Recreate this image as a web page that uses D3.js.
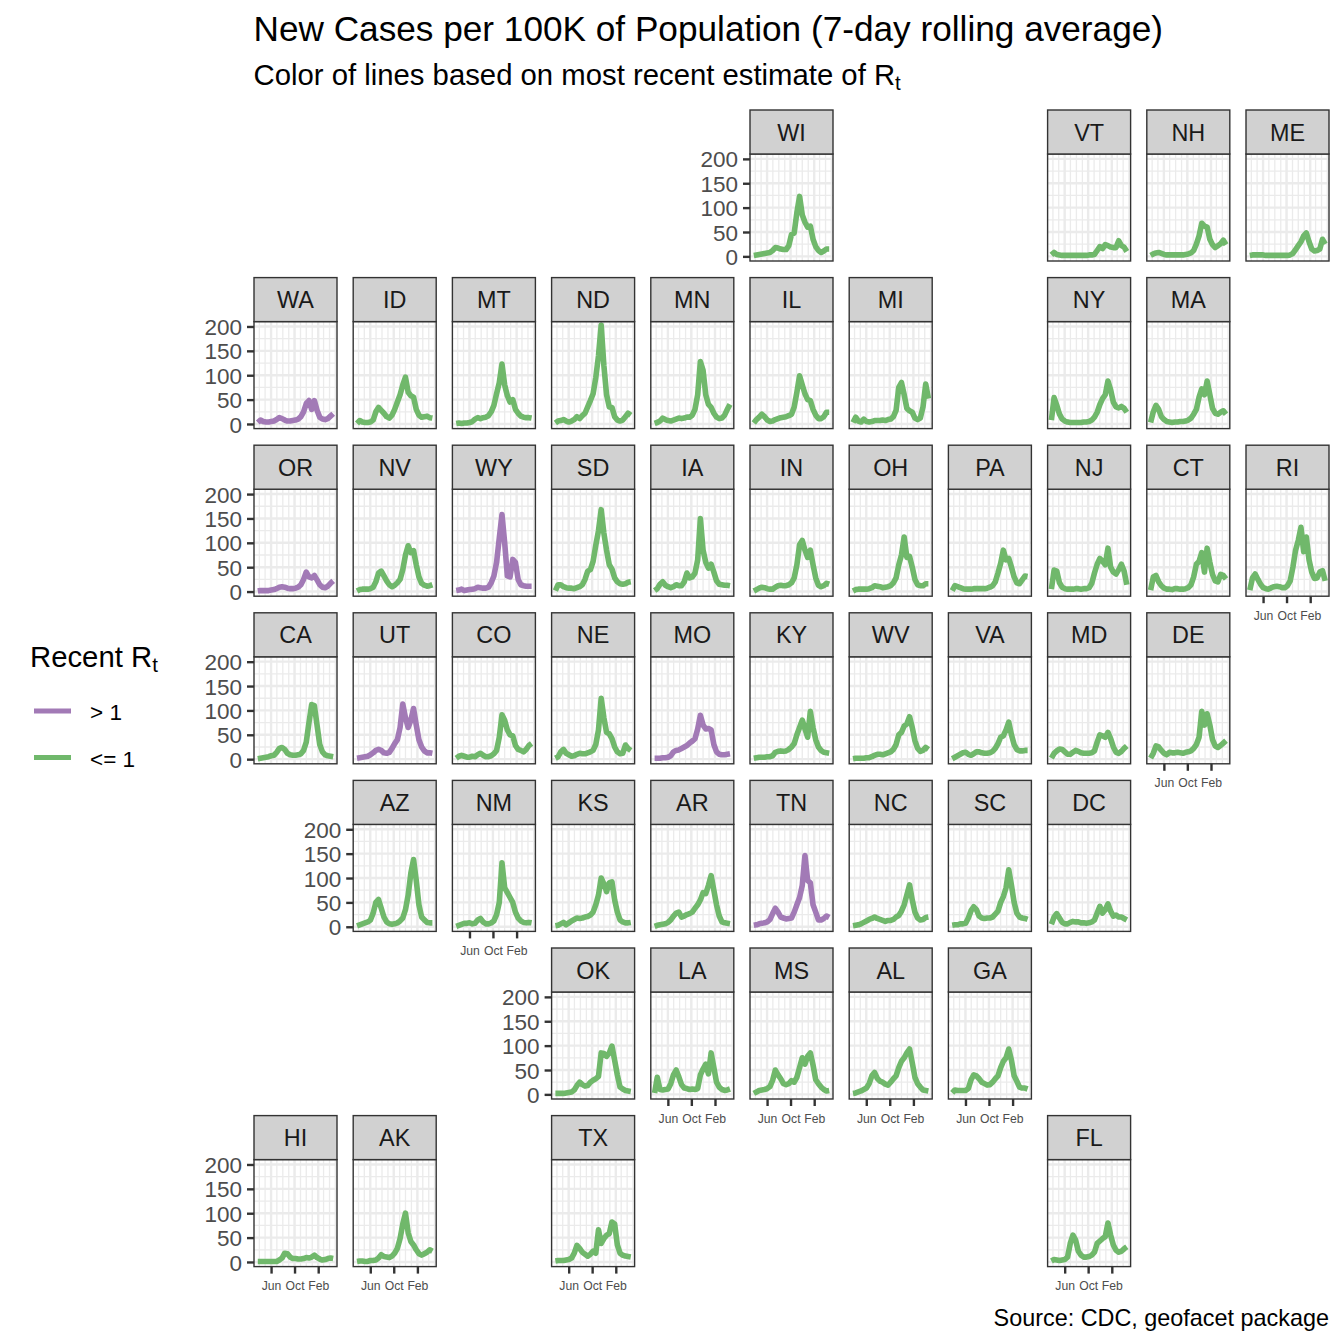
<!DOCTYPE html>
<html>
<head>
<meta charset="utf-8">
<title>New Cases per 100K</title>
<script src="https://cdn.jsdelivr.net/npm/d3@7"></script>
<style>
  html, body { margin: 0; padding: 0; background: #fff; }
  svg { display: block; }
  text { font-family: "Liberation Sans", Arial, sans-serif; }
</style>
</head>
<body>
<div id="chart"></div>
<script>
// Sample dates, every two weeks
const dates = ['2020-03-24','2020-04-07','2020-04-21','2020-05-05','2020-05-19','2020-06-02','2020-06-16','2020-06-30',
  '2020-07-14','2020-07-28','2020-08-11','2020-08-25','2020-09-08','2020-09-22','2020-10-06','2020-10-20','2020-11-03',
  '2020-11-17','2020-12-01','2020-12-15','2020-12-29','2021-01-12','2021-01-26','2021-02-09','2021-02-23','2021-03-09',
  '2021-03-23','2021-04-06','2021-04-20'].map(d3.utcParse('%Y-%m-%d'));

// New cases per 100K
const WI = [2,3,4,5,6,7,8,12,18,17,15,14,14,22,45,48,90,123,85,70,60,62,35,20,12,8,11,15,15];
const VT = [3,8,4,3,2,2,2,2,2,2,2,2,2,2,3,3,4,12,20,16,24,22,19,18,18,32,22,19,10];
const NH = [2,5,7,8,6,4,3,3,3,3,3,3,3,4,5,7,12,25,42,68,62,60,35,24,18,22,26,33,24];
const ME = [2,3,3,3,3,3,2,2,2,2,2,2,2,2,2,3,6,14,22,30,42,48,30,15,11,12,15,35,25];
const WA = [3,8,5,4,4,5,6,9,13,11,8,6,6,7,8,10,15,25,42,48,30,48,28,14,10,9,11,16,21];
const ID = [1,7,4,3,3,4,8,25,34,28,22,15,12,18,30,45,60,80,96,65,58,55,30,18,14,15,16,13,12];
const MT = [1,2,1,2,2,3,5,10,13,11,13,14,17,25,38,62,85,123,80,58,45,50,30,22,16,14,13,13,12];
const ND = [2,6,7,9,6,4,6,9,15,11,17,22,35,48,62,95,140,203,120,60,35,34,15,8,6,8,15,22,18];
const MN = [1,3,6,12,9,7,6,8,10,12,11,12,14,14,18,30,60,128,110,60,40,34,22,14,11,12,18,30,40];
const IL = [2,9,14,20,15,8,5,6,9,11,13,14,15,17,20,35,65,99,80,62,50,48,30,18,11,11,15,24,24];
const MI = [3,14,6,4,10,5,4,5,7,7,7,8,7,9,10,15,28,75,85,60,32,27,24,12,9,12,35,82,52];
const NY = [8,54,38,20,10,6,4,3,3,3,3,3,4,4,5,8,14,24,40,52,60,88,70,45,35,33,36,32,24];
const MA = [3,25,38,30,15,9,5,4,3,4,4,5,5,6,8,12,20,30,55,72,60,88,60,32,22,20,24,27,20];
const OR = [1,2,2,2,2,3,4,6,9,10,9,7,6,6,7,9,14,25,40,30,28,33,24,14,9,8,11,17,22];
const NV = [1,4,5,5,5,6,9,20,38,42,32,22,14,10,13,18,25,45,75,94,80,84,55,30,17,13,11,12,14];
const WY = [2,3,5,2,3,4,5,6,9,8,7,7,9,18,32,60,110,158,100,32,30,66,60,25,14,12,11,11,11];
const SD = [2,14,14,10,8,7,7,6,8,10,14,25,42,45,62,95,125,168,120,85,55,46,28,20,16,15,16,19,20];
const IA = [2,6,15,20,13,10,8,10,14,12,12,20,38,28,30,38,65,150,85,60,48,56,40,22,15,14,13,13,12];
const IN = [1,4,7,9,8,6,5,5,9,12,13,12,12,14,18,28,55,96,105,85,70,85,55,28,13,10,12,17,15];
const OH = [1,4,5,5,5,5,6,8,12,11,10,8,9,10,12,18,28,55,75,112,70,72,50,25,14,12,12,16,16];
const PA = [2,12,10,8,6,5,5,5,6,6,6,6,6,7,9,12,20,38,58,85,65,68,50,30,18,16,24,32,31];
const NJ = [5,44,42,18,9,6,5,5,5,6,6,5,6,6,8,17,38,56,68,62,55,89,50,40,36,45,56,42,14];
const CT = [3,30,33,20,12,7,5,5,4,6,6,5,5,6,8,14,30,56,62,80,40,89,60,35,22,20,35,33,26];
const RI = [3,28,36,25,15,8,6,5,8,10,11,10,8,8,12,22,50,85,105,132,82,112,65,40,27,28,40,43,22];
const CA = [1,2,3,4,5,7,8,14,22,24,20,12,9,8,8,9,11,18,35,75,112,110,70,30,15,9,7,6,5];
const UT = [2,3,4,5,6,9,13,18,20,18,13,12,14,22,32,40,65,113,85,65,80,104,70,40,25,17,13,13,12];
const CO = [2,6,8,6,4,4,6,5,9,12,8,5,5,7,11,18,45,91,80,60,50,48,28,20,18,15,20,28,32];
const NE = [2,5,15,20,12,9,6,7,10,12,11,11,13,15,18,30,60,125,85,55,52,42,25,15,11,12,29,22,18];
const MO = [2,2,2,3,3,4,7,15,18,19,22,25,28,33,37,42,62,90,70,62,63,60,30,15,10,9,9,10,11];
const KY = [2,3,4,4,4,5,5,7,14,16,17,16,17,20,25,32,50,65,80,62,45,98,65,40,25,18,14,13,12];
const WV = [1,2,2,2,2,3,3,5,8,10,10,9,11,13,15,20,30,50,55,68,72,87,65,38,22,16,18,24,20];
const VA = [1,4,7,10,13,14,10,8,11,15,15,13,12,12,13,16,22,32,45,48,60,76,50,30,20,17,17,18,18];
const MD = [2,12,17,21,20,15,10,10,14,18,16,13,12,12,12,13,17,35,50,48,45,55,42,25,14,12,16,22,27];
const DE = [2,12,27,25,18,12,9,14,13,13,14,13,12,14,15,17,22,30,45,98,70,93,70,40,27,24,28,33,38];
const AZ = [2,4,6,8,10,14,28,50,56,38,20,10,6,5,6,8,12,18,35,65,110,138,95,45,20,14,9,8,8];
const NM = [1,3,5,7,7,8,6,7,14,17,10,6,6,8,12,25,50,131,80,70,60,50,30,18,12,9,8,9,8];
const KS = [2,3,6,9,4,8,12,15,18,17,18,20,21,24,30,45,65,100,88,72,90,92,55,30,14,10,8,8,9];
const AR = [1,3,4,5,6,9,14,22,28,30,20,22,25,27,30,38,45,55,70,68,85,105,75,45,22,10,8,7,6];
const TN = [3,4,6,7,8,10,15,27,38,30,20,18,16,17,18,30,45,60,85,146,95,90,45,30,14,14,17,22,19];
const NC = [2,3,4,6,9,12,15,17,20,17,15,13,11,13,13,15,20,23,32,45,65,86,55,30,18,14,15,19,20];
const SC = [3,4,4,6,6,7,18,33,41,35,22,18,17,18,18,20,26,32,50,62,80,117,85,50,28,20,18,17,15];
const DC = [5,20,27,18,9,6,6,9,11,10,10,8,8,7,8,10,14,28,42,28,35,47,32,22,24,20,20,17,14];
const OK = [2,2,2,2,3,4,5,9,18,25,20,17,18,25,29,32,37,85,84,78,85,99,70,40,15,11,8,7,6];
const LA = [3,35,10,9,10,11,22,40,50,36,20,13,12,10,11,10,12,40,52,62,42,85,55,25,15,10,8,9,11];
const MS = [2,5,8,9,10,12,16,29,50,40,32,22,20,22,28,25,35,55,75,62,78,85,60,30,22,15,10,7,8];
const AL = [2,3,5,7,10,13,22,38,45,33,27,25,21,19,25,32,38,55,68,75,85,93,65,35,22,15,9,8,7];
const GA = [3,9,8,8,8,8,12,30,40,38,32,25,22,19,20,25,32,38,55,68,75,93,70,38,27,15,13,13,11];
const HI = [1,1,1,1,1,1,1,1,4,8,18,17,10,7,7,6,6,7,9,8,10,14,9,6,4,5,7,8,7];
const AK = [1,2,2,1,1,3,3,4,8,15,11,10,9,12,18,28,48,78,100,60,42,35,25,17,14,17,20,25,22];
const TX = [2,3,3,3,4,5,8,18,34,28,20,16,12,16,22,18,66,38,48,55,58,82,78,35,18,14,12,11,10];
const FL = [2,5,4,3,4,5,10,38,55,45,22,14,10,10,11,14,20,38,43,48,52,80,55,35,24,20,22,27,31];

const cases = {WI,VT,NH,ME,WA,ID,MT,ND,MN,IL,MI,NY,MA,OR,NV,WY,SD,IA,IN,OH,PA,NJ,CT,RI,CA,UT,CO,NE,MO,KY,WV,VA,MD,DE,
  AZ,NM,KS,AR,TN,NC,SC,DC,OK,LA,MS,AL,GA,HI,AK,TX,FL};

// Most recent Rt estimate above 1
const rtAboveOne = ['WA','OR','WY','UT','MO','TN'];

// Geofacet grid, one string per row, '.' is an empty cell
const geoGrid = [
  '. . . . . WI . . VT NH ME',
  'WA ID MT ND MN IL MI . NY MA .',
  'OR NV WY SD IA IN OH PA NJ CT RI',
  'CA UT CO NE MO KY WV VA MD DE .',
  '. AZ NM KS AR TN NC SC DC . .',
  '. . . OK LA MS AL GA . . .',
  'HI AK . TX . . . . FL . .'
].map(r => r.split(' '));

const yTicks = [0, 50, 100, 150, 200];
const yMinor = [25, 75, 125, 175];
const xTicks = ['2020-06-01','2020-10-01','2021-02-01'].map(d3.utcParse('%Y-%m-%d'));
const legendItems = [['> 1', '#a27ab6'], ['<= 1', '#70b86b']];

// Layout
const W = 1344, H = 1344;
const gridLeft = 254, gridTop = 110, stepX = 99.2, stepY = 167.6;
const panelW = 83, stripH = 44, panelH = 107;

const svg = d3.select('#chart').append('svg').attr('width', W).attr('height', H);

const x = d3.scaleTime().domain([dates[0], dates[dates.length - 1]]).range([3.8, 79.2]);
const y = d3.scaleLinear().domain([-9.5, 210]).range([panelH, 0]);
const months = d3.utcMonth.range(d3.utcMonth.ceil(x.invert(0)), x.invert(panelW));
const line = d3.line().x((d, i) => x(dates[i])).y(d => y(d));

function hasPanelBelow(row, col) {
  return geoGrid.slice(row + 1).some(r => r[col] !== '.');
}

geoGrid.forEach((cells, row) => {
  const firstCol = cells.findIndex(c => c !== '.');
  cells.forEach((state, col) => {
    if (state === '.') return;
    const g = svg.append('g')
      .attr('transform', `translate(${gridLeft + col * stepX},${gridTop + row * stepY})`);
    const p = g.append('g').attr('transform', `translate(0,${stripH})`);

    // Strip
    g.append('rect').attr('width', panelW).attr('height', stripH)
      .attr('fill', '#d1d1d1').attr('stroke', '#333333').attr('stroke-width', 1.4);
    g.append('text').attr('x', panelW / 2).attr('y', 30.5).attr('text-anchor', 'middle')
      .attr('font-size', 23.4).attr('fill', '#1a1a1a').text(state);

    // Grid
    p.append('rect').attr('width', panelW).attr('height', panelH).attr('fill', '#fff');
    p.selectAll('.minor-y').data(yMinor).join('line').attr('class', 'minor-y')
      .attr('x2', panelW).attr('y1', y).attr('y2', y)
      .attr('stroke', '#ebebeb').attr('stroke-width', 1.3);
    p.selectAll('.minor-x').data(months).join('line').attr('class', 'minor-x')
      .attr('x1', x).attr('x2', x).attr('y2', panelH)
      .attr('stroke', '#ebebeb').attr('stroke-width', 1.3);
    p.selectAll('.major-y').data(yTicks).join('line').attr('class', 'major-y')
      .attr('x2', panelW).attr('y1', y).attr('y2', y)
      .attr('stroke', '#ebebeb').attr('stroke-width', 2.4);
    p.selectAll('.major-x').data(xTicks).join('line').attr('class', 'major-x')
      .attr('x1', x).attr('x2', x).attr('y2', panelH)
      .attr('stroke', '#ebebeb').attr('stroke-width', 2.4);

    // Series
    const color = rtAboveOne.includes(state) ? legendItems[0][1] : legendItems[1][1];
    p.append('path').datum(cases[state]).attr('d', line)
      .attr('fill', 'none').attr('stroke', color)
      .attr('stroke-width', 5.6).attr('stroke-linejoin', 'round');

    p.append('rect').attr('width', panelW).attr('height', panelH)
      .attr('fill', 'none').attr('stroke', '#333333').attr('stroke-width', 1.4);

    // Axes only on the outer panels
    if (col === firstCol) {
      const ax = p.append('g').call(d3.axisLeft(y).tickValues(yTicks).tickSize(7).tickPadding(5));
      ax.select('.domain').remove();
      ax.selectAll('line').attr('stroke', '#333333').attr('stroke-width', 2.4);
      ax.selectAll('text').attr('font-size', 22.5).attr('fill', '#4d4d4d').attr('dy', '0.36em')
        .attr('font-family', '"Liberation Sans", Arial, sans-serif');
    }
    if (!hasPanelBelow(row, col)) {
      const ax = p.append('g').attr('transform', `translate(0,${panelH})`)
        .call(d3.axisBottom(x).tickValues(xTicks).tickFormat(d3.utcFormat('%b')).tickSize(7).tickPadding(8));
      ax.select('.domain').remove();
      ax.selectAll('line').attr('stroke', '#333333').attr('stroke-width', 2.4);
      ax.selectAll('text').attr('font-size', 12.2).attr('fill', '#4d4d4d')
        .attr('font-family', '"Liberation Sans", Arial, sans-serif');
    }
  });
});

// Titles
svg.append('text').attr('x', 253.5).attr('y', 41).attr('font-size', 35.2).attr('fill', '#000')
  .text('New Cases per 100K of Population (7-day rolling average)');
const sub = svg.append('text').attr('x', 253.5).attr('y', 85).attr('font-size', 29.3).attr('fill', '#000');
sub.append('tspan').text('Color of lines based on most recent estimate of R');
sub.append('tspan').attr('dy', 5).attr('font-size', 20.5).text('t');

svg.append('text').attr('x', 1329).attr('y', 1326).attr('text-anchor', 'end')
  .attr('font-size', 23.4).attr('fill', '#000').text('Source: CDC, geofacet package');

// Legend
const lt = svg.append('text').attr('x', 30).attr('y', 667).attr('font-size', 29.3).attr('fill', '#000');
lt.append('tspan').text('Recent R');
lt.append('tspan').attr('dy', 5).attr('font-size', 20.5).text('t');
legendItems.forEach(([label, color], i) => {
  const ky = 711 + i * 46.5;
  svg.append('line').attr('x1', 34).attr('x2', 71).attr('y1', ky).attr('y2', ky)
    .attr('stroke', color).attr('stroke-width', 5);
  svg.append('text').attr('x', 90).attr('y', ky + 9).attr('font-size', 22.5).attr('fill', '#000').text(label);
});
</script>
</body>
</html>
